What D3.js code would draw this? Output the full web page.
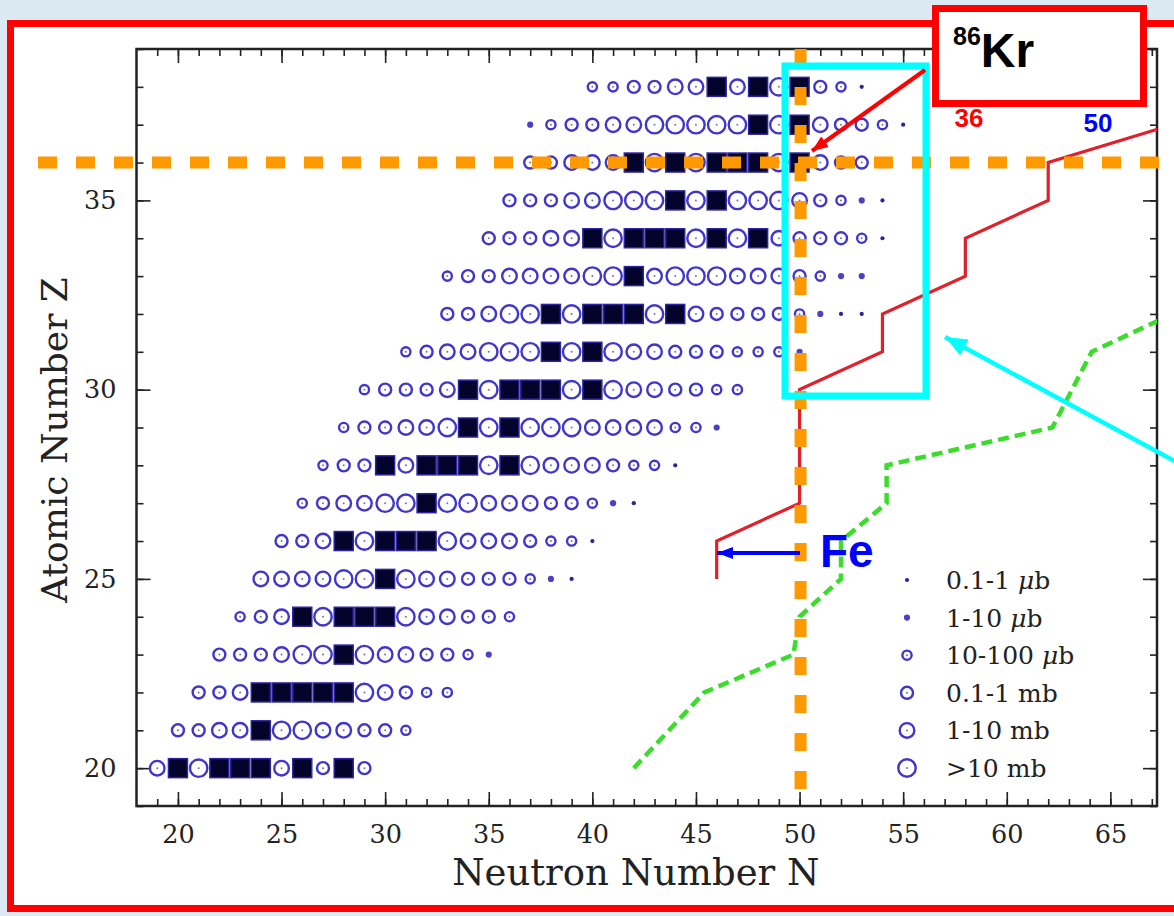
<!DOCTYPE html>
<html><head><meta charset="utf-8">
<script src="https://cdn.jsdelivr.net/npm/d3@7"></script>
<style>
html,body{margin:0;padding:0;background:#dbeaf2;}
svg{display:block;}
</style></head><body>
<svg id="chart" width="1174" height="916"></svg>
<script>
// ---- data: fragmentation cross sections per isotope ----
// One row per element (proton number Z), listing classes from the first neutron number N.
// Class 0..5 = cross-section band (see legendLabels), 6 = stable isotope.
const protonZ = [20,21,22,23,24,25,26,27,28,29,30,31,32,33,34,35,36,37,38];
const firstN  = [19,20,21,22,23,24,25,26,27,28,29,31,33,33,35,36,37,37,40];
const xsClass = [
  [4,6,5,6,6,6,4,6,3,6,3],
  [3,3,4,4,6,5,5,4,4,3,3,2],
  [3,3,4,6,6,6,6,6,5,4,3,2,2],
  [3,3,3,4,5,5,6,5,4,4,3,3,2,1],
  [2,3,4,6,5,6,6,6,5,4,4,3,3,2],
  [4,4,4,4,5,5,6,5,4,4,3,3,3,2,1,0],
  [3,3,4,6,5,6,6,6,5,4,4,4,3,2,2,0],
  [2,3,4,4,5,5,6,5,5,4,4,4,3,3,2,1,0],
  [2,3,3,6,4,6,6,6,5,6,5,4,4,4,3,2,2,0],
  [2,3,3,4,4,5,6,5,6,5,5,5,4,4,4,4,2,2,1],
  [2,3,3,3,4,6,5,6,6,6,5,6,5,4,4,3,3,2,2],
  [2,3,4,4,5,5,5,6,5,6,5,4,4,3,3,3,2,2,2,1],
  [3,3,4,5,5,6,5,6,6,6,5,6,4,3,3,3,3,2,1,0,0],
  [2,3,3,4,4,4,4,5,5,6,4,5,5,5,4,4,4,3,2,1,1],
  [3,3,3,4,4,6,5,6,6,6,5,6,5,6,4,3,3,3,2,0],
  [3,3,3,4,4,5,5,5,6,5,6,5,5,5,4,3,2,1,0],
  [3,3,4,4,4,6,5,6,5,6,6,6,5,6,4,3,3,2],
  [1,2,3,3,4,4,5,5,5,5,5,6,5,6,4,3,3,2,0],
  [2,2,3,3,4,4,6,4,6,5,6,3,2,0]
];
const legendLabels = [["0.1-1 ","\u03bc","b"],["1-10 ","\u03bc","b"],["10-100 ","\u03bc","b"],
                      ["0.1-1 mb"],["1-10 mb"],[">10 mb"]];

// axis ticks
const nMajor = [20,25,30,35,40,45,50,55,60,65];
const zMajor = [20,25,30,35];

// staircase boundaries (N, Z)
const redStep = [[46,25],[46,26],[50,27],[50,30],[54,31],[54,32],[58,33],[58,34],[62,35],[62,36],[68,37]];
const greenPath = [[42,20],[45.4,22],[49.7,23],[50,24],[52,25],[52,26],[54.2,27],[54.2,28],[62.2,29],[64.1,31],[68,32]];

// highlighted nucleus 86Kr
const krN = 50, krZ = 36;

// ---- drawing ----
const W = 1174, H = 916;
const svg = d3.select("#chart");
const x = d3.scaleLinear().domain([18, 67.25]).range([136.5, 1157]);
const y = d3.scaleLinear().domain([19, 39]).range([806, 49]);

svg.append("rect").attr("width", W).attr("height", H).attr("fill", "#dbeaf2");
svg.append("rect").attr("x", 10.5).attr("y", 23.5).attr("width", 1190).attr("height", 885)
  .attr("fill", "#ffffff").attr("stroke", "#ff0000").attr("stroke-width", 7);

const serif = "'DejaVu Serif', serif";
const sans = "'Liberation Sans', Arial, sans-serif";

// axes (ticks point inward on all four sides)
const allN = d3.range(19, 68), allZ = d3.range(19, 40);
function styleAxis(g){ g.select(".domain").remove(); g.selectAll("line").attr("stroke", "#222").attr("stroke-width", 1.6); }
const axB = svg.append("g").attr("transform", `translate(0,${y.range()[0]})`);
axB.call(d3.axisBottom(x).tickValues(allN).tickSize(-7).tickFormat(""));
axB.call(styleAxis);
const axB2 = svg.append("g").attr("transform", `translate(0,${y.range()[0]})`)
  .call(d3.axisBottom(x).tickValues(nMajor).tickSize(-14).tickPadding(19));
axB2.call(styleAxis);
axB2.selectAll("text").attr("font-family", serif).attr("font-size", 25.5).attr("fill", "#222");
const axT = svg.append("g").attr("transform", `translate(0,${y.range()[1]})`);
axT.call(d3.axisTop(x).tickValues(allN).tickSize(-7).tickFormat("")).call(styleAxis);
const axT2 = svg.append("g").attr("transform", `translate(0,${y.range()[1]})`);
axT2.call(d3.axisTop(x).tickValues(nMajor).tickSize(-14).tickFormat("")).call(styleAxis);

const axL = svg.append("g").attr("transform", `translate(${x.range()[0]},0)`);
axL.call(d3.axisLeft(y).tickValues(allZ).tickSize(-7).tickFormat("")).call(styleAxis);
const axL2 = svg.append("g").attr("transform", `translate(${x.range()[0]},0)`)
  .call(d3.axisLeft(y).tickValues(zMajor).tickSize(-14).tickPadding(20));
axL2.call(styleAxis);
axL2.selectAll("text").attr("font-family", serif).attr("font-size", 25.5).attr("fill", "#222");
const axR = svg.append("g").attr("transform", `translate(${x.range()[1]},0)`);
axR.call(d3.axisRight(y).tickValues(allZ).tickSize(-7).tickFormat("")).call(styleAxis);
const axR2 = svg.append("g").attr("transform", `translate(${x.range()[1]},0)`);
axR2.call(d3.axisRight(y).tickValues(zMajor).tickSize(-14).tickFormat("")).call(styleAxis);

svg.append("rect").attr("x", x.range()[0]).attr("y", y.range()[1])
  .attr("width", x.range()[1] - x.range()[0]).attr("height", y.range()[0] - y.range()[1])
  .attr("fill", "none").attr("stroke", "#222").attr("stroke-width", 2.5);

svg.append("text").attr("x", (x.range()[0] + x.range()[1]) / 2 - 11).attr("y", 885)
  .attr("text-anchor", "middle").attr("font-family", serif).attr("font-size", 37).attr("fill", "#222")
  .text("Neutron Number N");
svg.append("text").attr("transform", `translate(67,${440}) rotate(-90)`)
  .attr("text-anchor", "middle").attr("font-family", serif).attr("font-size", 36).attr("fill", "#222")
  .text("Atomic Number Z");

// isotopes
const pts = [];
protonZ.forEach((z, i) => xsClass[i].forEach((c, k) => pts.push({N: firstN[i] + k, Z: z, c})));
const radius = [2.1, 3.1, 4.6, 6.0, 7.3, 8.7];
const ringColor = "#4036cc";
const plot = svg.append("g");
function drawMarker(g, cx, cy, c){
  if (c <= 1) {
    g.append("circle").attr("cx", cx).attr("cy", cy).attr("r", radius[c])
      .attr("fill", c === 0 ? "#2c2498" : "#4a42c4");
  } else {
    g.append("circle").attr("cx", cx).attr("cy", cy).attr("r", radius[c])
      .attr("fill", "none").attr("stroke", ringColor).attr("stroke-width", 2.4);
    g.append("circle").attr("cx", cx).attr("cy", cy).attr("r", 1)
      .attr("fill", "#77749e");
  }
}
pts.filter(d => d.c < 6).forEach(d => drawMarker(plot, x(d.N), y(d.Z), d.c));
const sq = 19;
plot.selectAll("rect.stable").data(pts.filter(d => d.c === 6)).join("rect")
  .attr("class", "stable")
  .attr("x", d => x(d.N) - sq / 2).attr("y", d => y(d.Z) - sq / 2)
  .attr("width", sq).attr("height", sq)
  .attr("fill", "#04032c").attr("stroke", "#2d24a0").attr("stroke-width", 1.5);

// legend
const lg = svg.append("g");
legendLabels.forEach((parts, i) => {
  const cy = 580 + i * 37.6;
  drawMarker(lg, 907, cy, i);
  const t = lg.append("text").attr("x", 946).attr("y", cy + 9).attr("font-family", serif)
    .attr("font-size", 25).attr("fill", "#222");
  parts.forEach((p, j) => t.append("tspan").attr("font-style", j === 1 ? "italic" : "normal").text(p));
});

// boundaries
const line = d3.line().x(d => x(d[0])).y(d => y(d[1]));
svg.append("clipPath").attr("id", "plotclip").append("rect")
  .attr("x", x.range()[0]).attr("y", y.range()[1])
  .attr("width", x.range()[1] - x.range()[0]).attr("height", y.range()[0] - y.range()[1]);
svg.append("path").attr("d", line(greenPath)).attr("clip-path", "url(#plotclip)")
  .attr("fill", "none").attr("stroke", "#3bdc2c").attr("stroke-width", 4.5).attr("stroke-dasharray", "11,6");
svg.append("path").attr("d", line(redStep)).attr("clip-path", "url(#plotclip)")
  .attr("fill", "none").attr("stroke", "#e0202a").attr("stroke-width", 3.2);

// magic-number guides through 86Kr
svg.append("line").attr("x1", 38).attr("x2", W).attr("y1", y(krZ)).attr("y2", y(krZ))
  .attr("stroke", "#ff9900").attr("stroke-width", 12).attr("stroke-dasharray", "19,19");
svg.append("line").attr("x1", x(krN) + 1).attr("x2", x(krN) + 1).attr("y1", 49).attr("y2", 796)
  .attr("stroke", "#ff9900").attr("stroke-width", 12).attr("stroke-dasharray", "18,20");

// highlight box
svg.append("rect").attr("x", 785).attr("y", 66).attr("width", 141).attr("height", 330)
  .attr("fill", "none").attr("stroke", "#00ffff").attr("stroke-width", 7);

// arrows
const defs = svg.append("defs");
function arrowHead(id, color, w, h){
  defs.append("marker").attr("id", id).attr("viewBox", `0 0 ${w} ${h}`).attr("refX", w).attr("refY", h / 2)
    .attr("markerWidth", w).attr("markerHeight", h).attr("markerUnits", "userSpaceOnUse").attr("orient", "auto")
    .append("path").attr("d", `M0,0L${w},${h / 2}L0,${h}Z`).attr("fill", color);
}
arrowHead("ahRed", "#ff0000", 16, 13);
arrowHead("ahBlue", "#0000ff", 16, 12);
arrowHead("ahCyan", "#00ffff", 22, 18);
svg.append("line").attr("x1", 925).attr("y1", 70).attr("x2", 812).attr("y2", 151)
  .attr("stroke", "#ff0000").attr("stroke-width", 4).attr("marker-end", "url(#ahRed)");
svg.append("line").attr("x1", 1180).attr("y1", 464).attr("x2", 945).attr("y2", 337)
  .attr("stroke", "#00ffff").attr("stroke-width", 4.5).attr("marker-end", "url(#ahCyan)");
svg.append("line").attr("x1", 800).attr("y1", 553).attr("x2", 717).attr("y2", 553)
  .attr("stroke", "#0000ff").attr("stroke-width", 4).attr("marker-end", "url(#ahBlue)");
svg.append("text").attr("x", 820).attr("y", 567).attr("font-family", sans).attr("font-weight", "bold")
  .attr("font-size", 46).attr("fill", "#0000ff").text("Fe");

// 86Kr label
svg.append("rect").attr("x", 935.5).attr("y", 8.5).attr("width", 208).attr("height", 95)
  .attr("fill", "#ffffff").attr("stroke", "#ff0000").attr("stroke-width", 7);
const kt = svg.append("text").attr("x", 953).attr("y", 67).attr("font-family", sans)
  .attr("font-weight", "bold").attr("fill", "#000");
kt.append("tspan").attr("font-size", 25).attr("dy", -22).text("86");
kt.append("tspan").attr("font-size", 48).attr("dy", 22).text("Kr");
svg.append("text").attr("x", 969).attr("y", 127).attr("text-anchor", "middle").attr("font-family", sans)
  .attr("font-weight", "bold").attr("font-size", 26).attr("fill", "#ff0000").text(krZ);
svg.append("text").attr("x", 1098).attr("y", 132).attr("text-anchor", "middle").attr("font-family", sans)
  .attr("font-weight", "bold").attr("font-size", 26).attr("fill", "#0000ff").text(krN);
</script>
</body></html>
